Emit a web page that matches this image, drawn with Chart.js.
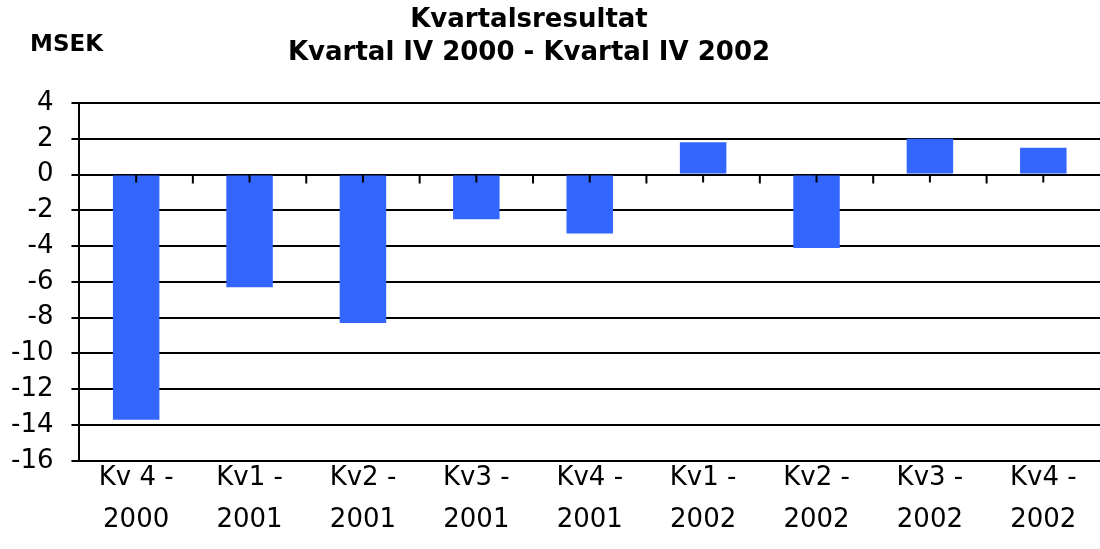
<!DOCTYPE html>
<html>
<head>
<meta charset="utf-8">
<script src="https://cdn.jsdelivr.net/npm/chart.js@4/dist/chart.umd.min.js"></script>
<style>
  html, body { margin: 0; padding: 0; background: #fff; }
  #wrap { width: 1100px; height: 549px; }
</style>
</head>
<body>
<div id="wrap"><canvas id="myChart"></canvas></div>
<script>
var categories = [
  ['Kv 4 -', '2000'],
  ['Kv1 -', '2001'],
  ['Kv2 -', '2001'],
  ['Kv3 -', '2001'],
  ['Kv4 -', '2001'],
  ['Kv1 -', '2002'],
  ['Kv2 -', '2002'],
  ['Kv3 -', '2002'],
  ['Kv4 -', '2002']
];
var results = [-13.7, -6.3, -8.3, -2.5, -3.3, 1.8, -4.1, 2.0, 1.5];
var titleLines = ['Kvartalsresultat', 'Kvartal IV 2000 - Kvartal IV 2002'];
var unitLabel = 'MSEK';

// titles and the little tick marks along the zero line
var extras = {
  id: 'extras',
  afterDraw: function(chart) {
    var c = chart.ctx;
    var x = chart.scales.x, y = chart.scales.y;
    var y0 = y.getPixelForValue(0);
    var half = (x.getPixelForValue(1) - x.getPixelForValue(0)) / 2;
    c.save();
    c.strokeStyle = '#000';
    c.lineWidth = 2;
    c.beginPath();
    for (var i = 0; i < categories.length; i++) {
      var px = x.getPixelForValue(i);
      c.moveTo(px, y0); c.lineTo(px, y0 + 8);
      if (i > 0) { c.moveTo(px - half, y0); c.lineTo(px - half, y0 + 9); }
    }
    c.stroke();

    c.fillStyle = '#000';
    c.textAlign = 'center';
    c.textBaseline = 'middle';
    c.font = 'bold 26px "DejaVu Sans"';
    c.fillText(titleLines[0], 529, 20);
    c.fillText(titleLines[1], 529, 53);
    c.textAlign = 'left';
    c.font = 'bold 23px "DejaVu Sans"';
    c.fillText(unitLabel, 30, 45);
    c.restore();
  }
};

var ctx = document.getElementById('myChart').getContext('2d');
var myChart = new Chart(ctx, {
  type: 'bar',
  data: {
    labels: categories,
    datasets: [{
      label: 'MSEK',
      data: results,
      backgroundColor: '#3366ff',
      borderWidth: 0,
      barPercentage: 0.41,
      categoryPercentage: 1
    }]
  },
  options: {
    responsive: true,
    maintainAspectRatio: false,
    animation: false,
    layout: { padding: { top: 103, left: -7, right: -5, bottom: 11 } },
    plugins: {
      legend: { display: false },
      title: { display: false },
      tooltip: { enabled: false }
    },
    scales: {
      x: {
        grid: { display: false, drawTicks: false },
        border: { display: false },
        ticks: {
          color: '#000',
          padding: -3,
          maxRotation: 0,
          font: { family: 'DejaVu Sans', size: 26, lineHeight: 1.6 }
        }
      },
      y: {
        min: -16,
        max: 4,
        grid: { color: '#000', lineWidth: 2, tickLength: 8 },
        border: { color: '#000', width: 2 },
        ticks: {
          stepSize: 2,
          color: '#000',
          padding: 18,
          font: { family: 'DejaVu Sans', size: 26 }
        }
      }
    }
  },
  plugins: [extras]
});
</script>
</body>
</html>
